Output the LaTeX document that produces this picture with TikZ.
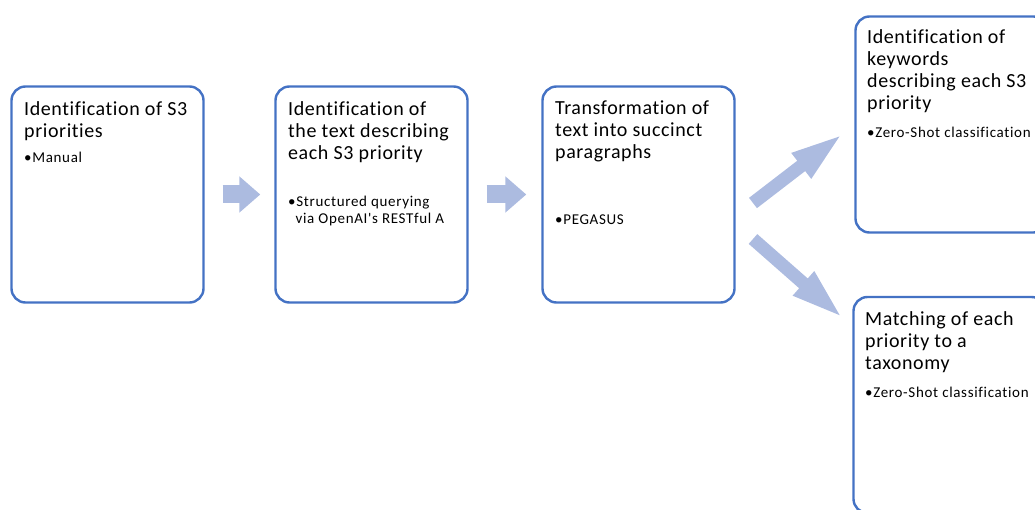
\documentclass[tikz,border=0pt]{standalone}
\usepackage{fontspec}
\setmainfont{Carlito}[Ligatures=NoCommon]
\newfontfamily\titlefont{Carlito}[Ligatures=NoCommon, LetterSpace=3]
\newfontfamily\itemfont{Carlito}[Ligatures=NoCommon, LetterSpace=4.5]
\usetikzlibrary{arrows.meta, positioning}
\definecolor{stageblue}{RGB}{68, 114, 196}
\definecolor{flowfill}{RGB}{172, 187, 224}

\begin{document}
\begin{tikzpicture}[x=1pt, y=-1pt,
  stage/.style={draw=stageblue, line width=2.4pt, rounded corners=14pt, fill=white, minimum width=192pt, minimum height=216pt, inner sep=0pt},
  stagetitle/.style={anchor=north west, inner sep=0pt, align=left, font=\titlefont\fontsize{20}{22}\selectfont},
  stageitem/.style={anchor=north west, inner sep=0pt, align=left, font=\itemfont\fontsize{15}{16.5}\selectfont},
  flowarrow/.style={draw=flowfill, line width=18pt, -{Triangle[length=21pt, width=35pt]}},
  forkarrow/.style={draw=flowfill, line width=13pt, -{Triangle[length=54pt, width=28pt]}}]
  \useasboundingbox (0,0) rectangle (1035,510);
  \clip (0,0) rectangle (1035,510);

  % pipeline stages
  \node[stage] (priorities) at (107.5, 194.5) {};
  \node[stage] (textdesc) at (371.5, 194.5) {};
  \node[stage] (summary) at (638.5, 194.5) {};
  \node[stage] (keywords) at (951.5, 124.5) {};
  \node[stage] (taxonomy) at (949.5, 405) {};

  % stage titles and methods
  \node[stagetitle] (prioritiestitle) at (24, 101) {Identification of S3\\priorities};
  \node[stageitem] (prioritiesitem) at (24, 152) {•Manual};

  \node[stagetitle] (textdesctitle) at (288, 101) {Identification of\\the text describing\\each S3 priority};
  \node[stageitem] (textdescitem) at (288, 196) {•Structured querying\\\phantom{•}via OpenAI's RESTful A};

  \node[stagetitle] (summarytitle) at (555, 101) {Transformation of\\text into succinct\\paragraphs};
  \node[stageitem] (summaryitem) at (555, 215) {•PEGASUS};

  \node[stagetitle] (keywordstitle) at (867, 29) {Identification of\\keywords\\describing each S3\\priority};
  \node[stageitem] (keywordsitem) at (867, 127) {•Zero-Shot classification};

  \node[stagetitle] (taxonomytitle) at (865, 311) {Matching of each\\priority to a\\taxonomy};
  \node[stageitem] (taxonomyitem) at (865, 387) {•Zero-Shot classification};

  % flow between stages
  \draw[flowarrow, shorten <=18pt, shorten >=14pt] (priorities) -- (textdesc);
  \draw[flowarrow, shorten <=18pt, shorten >=15pt] (textdesc) -- (summary);

  % fork towards the last two stages
  \coordinate (forkup) at (753, 203);
  \coordinate (forkdown) at (753, 239);
  \coordinate (keywordsin) at (844, 133);
  \coordinate (taxonomyin) at (844, 319);
  \draw[forkarrow] (forkup) -- (keywordsin);
  \draw[forkarrow] (forkdown) -- (taxonomyin);
\end{tikzpicture}
\end{document}
